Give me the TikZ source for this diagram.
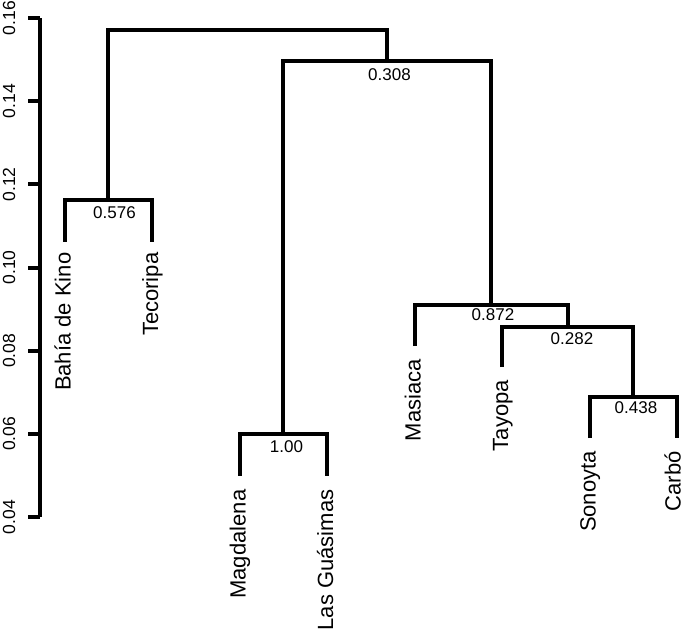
\documentclass[tikz,border=0pt]{standalone}
\usepackage{fontspec}
\setmainfont{Liberation Sans}
\begin{document}
\begin{tikzpicture}[x=1pt,y=-1pt,
  tree/.style={line width=4pt, line join=miter},
  axisline/.style={line width=4pt},
  ticklab/.style={rotate=90, anchor=base, inner sep=0pt, font=\fontsize{17.5}{20}\selectfont},
  numlab/.style={anchor=center, inner sep=0pt, font=\fontsize{17}{20}\selectfont},
  leaflab/.style={rotate=90, anchor=base east, inner sep=0pt, font=\fontsize{22}{26}\selectfont}]
\useasboundingbox (0,0) rectangle (683,630);
% axis
\coordinate (ax0) at (40,18);
\coordinate (ax1) at (40,517);
\draw[axisline] (ax0) -- (ax1);
\foreach \v/\yy [count=\i] in {0.16/18,0.14/101.2,0.12/184.3,0.10/267.5,0.08/350.7,0.06/433.8,0.04/517}{
  \coordinate (tk\i) at (40,\yy);
  \coordinate (tl\i) at (27.5,\yy);
  \draw[axisline] (tk\i) -- (tl\i);
  \node[ticklab] (tlab\i) at (15,\yy) {\v};
}
% leaves (ends)
\coordinate (l1) at (64.5,241.5);
\coordinate (l2) at (152,241.5);
\coordinate (l3) at (239.5,475.5);
\coordinate (l4) at (327,475.5);
\coordinate (l5) at (414.5,346);
\coordinate (l6) at (502,367);
\coordinate (l7) at (589.5,438);
\coordinate (l8) at (677,438);
% merges
\coordinate (m1) at (108.25,200);
\coordinate (m2) at (283.25,434);
\coordinate (m3) at (633.25,397);
\coordinate (m4) at (567.6,326.5);
\coordinate (m5) at (491,305);
\coordinate (m6) at (387,60.5);
\coordinate (m7) at (247.6,30);
\draw[tree] (l1) |- (m1) -| (l2);
\draw[tree] (l3) |- (m2) -| (l4);
\draw[tree] (l7) |- (m3) -| (l8);
\draw[tree] (l6) |- (m4) -| (m3);
\draw[tree] (l5) |- (m5) -| (m4);
\draw[tree] (m2) |- (m6) -| (m5);
\draw[tree] (m1) |- (m7) -| (m6);
% node values
\node[numlab] (v1) at (114.5,212.5) {0.576};
\node[numlab] (v2) at (286.5,446.5) {1.00};
\node[numlab] (v3) at (636,407.5) {0.438};
\node[numlab] (v4) at (572,339) {0.282};
\node[numlab] (v5) at (493,315) {0.872};
\node[numlab] (v6) at (389.5,75) {0.308};
% leaf labels
\node[leaflab] (n1) at ([shift={(6,11)}]l1) {Bahía de Kino};
\node[leaflab] (n2) at ([shift={(6,11)}]l2) {Tecoripa};
\node[leaflab] (n3) at ([shift={(6,14)}]l3) {Magdalena};
\node[leaflab] (n4) at ([shift={(6,14)}]l4) {Las Guásimas};
\node[leaflab] (n5) at ([shift={(6,13)}]l5) {Masiaca};
\node[leaflab] (n6) at ([shift={(6,13)}]l6) {Tayopa};
\node[leaflab] (n7) at ([shift={(6,13)}]l7) {Sonoyta};
\node[leaflab] (n8) at ([shift={(3.5,13)}]l8) {Carbó};
\end{tikzpicture}
\end{document}
